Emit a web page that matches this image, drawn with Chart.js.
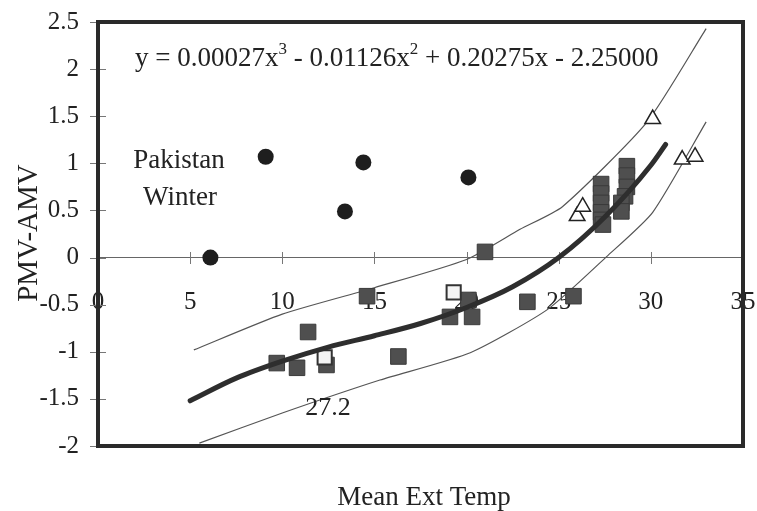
<!DOCTYPE html>
<html>
<head>
<meta charset="utf-8">
<script src="https://cdn.jsdelivr.net/npm/chart.js@4.4.1/dist/chart.umd.min.js"></script>
<style>
  html, body { margin: 0; padding: 0; background: #fff; }
  #wrap { width: 757px; height: 511px; position: relative; }
  canvas { display: block; }
</style>
</head>
<body>
<div id="wrap"><canvas id="c" width="757" height="511"></canvas></div>
<script>
// ---- Data ----
const xTicks = [0, 5, 10, 15, 20, 25, 30, 35];
const yTicks = [2.5, 2, 1.5, 1, 0.5, 0, -0.5, -1, -1.5, -2];

// Pakistan winter (filled circles)
const pakX = [6.1, 9.1, 13.4, 14.4, 20.1];
const pakY = [0.0, 1.07, 0.49, 1.01, 0.85];

// filled grey squares
const sqX = [9.7, 10.8, 11.4, 12.4, 14.6, 16.3, 19.1, 20.3, 20.1, 21.0, 23.3, 25.8,
             27.3, 27.3, 27.3, 27.3, 27.3, 27.4,
             28.7, 28.7, 28.7, 28.6, 28.4, 28.4];
const sqY = [-1.12, -1.17, -0.79, -1.14, -0.41, -1.05, -0.63, -0.63, -0.45, 0.06, -0.47, -0.41,
             0.78, 0.68, 0.58, 0.48, 0.40, 0.35,
             0.97, 0.87, 0.75, 0.65, 0.58, 0.49];

// open squares
const osqX = [19.3, 12.3];
const osqY = [-0.37, -1.06];

// open triangles
const triX = [26.0, 26.3, 30.1, 31.7, 32.4];
const triY = [0.44, 0.54, 1.47, 1.04, 1.07];

// fitted cubic trend
const fitX = [5, 7.5, 10, 12.5, 15, 17.5, 20, 22.5, 25, 27.5, 30, 30.8];
const fitY = [-1.52, -1.28, -1.10, -0.95, -0.83, -0.70, -0.53, -0.31, 0.0, 0.43, 0.98, 1.20];

// upper and lower thin band lines
const upX = [5.2, 10, 15, 20, 22.9, 25.2, 29.8, 33];
const upY = [-0.98, -0.60, -0.32, -0.02, 0.30, 0.54, 1.44, 2.43];
const loX = [5.5, 10, 15.3, 20.2, 24.4, 27.6, 30.1, 33];
const loY = [-1.97, -1.65, -1.30, -1.01, -0.55, 0.01, 0.48, 1.44];

const equationParts = [["y = 0.00027x", false], ["3", true], [" - 0.01126x", false], ["2", true], [" + 0.20275x - 2.25000", false]];
const labelPakistan = ["Pakistan", "Winter"];
const label272 = "27.2";
const xTitle = "Mean Ext Temp";
const yTitle = "PMV-AMV";

const pts = (xs, ys) => xs.map((x, i) => ({ x: x, y: ys[i] }));
const SERIF = "'Liberation Serif', 'Times New Roman', serif";
const INK = '#222';

const decor = {
  id: 'decor',
  beforeDraw(chart) {
    const ctx = chart.ctx;
    ctx.save();
    ctx.fillStyle = '#fff';
    ctx.fillRect(0, 0, chart.width, chart.height);
    ctx.restore();
  },
  beforeDatasetsDraw(chart) {
    const { ctx, chartArea: a, scales } = chart;
    const xs = scales.x, ys = scales.y;
    ctx.save();
    // y tick marks across the left border
    ctx.strokeStyle = '#777';
    ctx.lineWidth = 1;
    yTicks.forEach(v => {
      const py = Math.round(ys.getPixelForValue(v)) + 0.5;
      ctx.beginPath(); ctx.moveTo(a.left - 8, py); ctx.lineTo(a.left + 8, py); ctx.stroke();
    });
    // x tick marks across the zero line
    const y0 = Math.round(ys.getPixelForValue(0));
    xTicks.forEach(v => {
      const px = Math.round(xs.getPixelForValue(v)) + 0.5;
      ctx.beginPath(); ctx.moveTo(px, y0 - 6); ctx.lineTo(px, y0 + 6); ctx.stroke();
    });
    // thick plot frame
    ctx.strokeStyle = '#2a2a2a';
    ctx.lineWidth = 4;
    ctx.strokeRect(a.left, a.top, a.right - a.left, a.bottom - a.top);
    ctx.restore();
  },
  afterDraw(chart) {
    const { ctx } = chart;
    ctx.save();
    ctx.fillStyle = INK;
    ctx.textBaseline = 'alphabetic';
    // equation
    let ex = 135;
    const eb = 66;
    equationParts.forEach(([t, sup]) => {
      ctx.font = (sup ? '17px ' : '27px ') + SERIF;
      ctx.fillText(t, ex, sup ? eb - 12 : eb);
      ex += ctx.measureText(t).width;
    });
    // Pakistan Winter
    ctx.font = '27px ' + SERIF;
    ctx.textAlign = 'center';
    ctx.fillText(labelPakistan[0], 179, 168);
    ctx.fillText(labelPakistan[1], 180, 205);
    // 27.2 label
    ctx.font = '26px ' + SERIF;
    ctx.fillText(label272, 328, 415);
    // axis titles
    ctx.font = '27px ' + SERIF;
    ctx.fillText(xTitle, 424, 505);
    ctx.font = '29px ' + SERIF;
    ctx.translate(37, 233);
    ctx.rotate(-Math.PI / 2);
    ctx.fillText(yTitle, 0, 0);
    ctx.restore();
  }
};

new Chart(document.getElementById('c'), {
  type: 'scatter',
  data: {
    datasets: [
      { label: 'upper', type: 'line', data: pts(upX, upY), borderColor: '#555', borderWidth: 1.2,
        pointRadius: 0, tension: 0.2, fill: false, order: 5 },
      { label: 'lower', type: 'line', data: pts(loX, loY), borderColor: '#555', borderWidth: 1.2,
        pointRadius: 0, tension: 0.2, fill: false, order: 5 },
      { label: 'squares', data: pts(sqX, sqY), pointStyle: 'rect', pointRadius: 11,
        backgroundColor: '#4f4f4f', borderColor: '#3a3a3a', borderWidth: 1, order: 3 },
      { label: 'open squares', data: pts(osqX, osqY), pointStyle: 'rect', pointRadius: 10,
        backgroundColor: '#f4f4f4', borderColor: '#333', borderWidth: 2, order: 2 },
      { label: 'fit', type: 'line', data: pts(fitX, fitY), borderColor: '#2e2e2e', borderWidth: 5,
        pointRadius: 0, cubicInterpolationMode: 'monotone', fill: false, borderCapStyle: 'round', order: 1 },
      { label: 'triangles', data: pts(triX, triY), pointStyle: 'triangle', pointRadius: 9,
        backgroundColor: '#fff', borderColor: '#222', borderWidth: 1.5, order: 2 },
      { label: 'Pakistan Winter', data: pts(pakX, pakY), pointStyle: 'circle', pointRadius: 8,
        backgroundColor: '#1e1e1e', borderColor: '#1e1e1e', borderWidth: 0, order: 0 }
    ]
  },
  plugins: [decor],
  options: {
    responsive: false,
    devicePixelRatio: 1,
    animation: false,
    layout: { padding: { left: 0, right: 14, top: 22, bottom: 65 } },
    plugins: { legend: { display: false }, tooltip: { enabled: false } },
    scales: {
      x: {
        type: 'linear', min: 0, max: 35,
        position: { y: 0 },
        afterBuildTicks: s => { s.ticks = xTicks.map(v => ({ value: v })); },
        afterFit: s => { s.paddingLeft = 0; s.paddingRight = 0; s.paddingTop = 0; s.paddingBottom = 0; },
        ticks: { color: INK, font: { family: SERIF, size: 25 }, padding: 30, maxRotation: 0,
                 callback: v => String(v) },
        grid: { display: false, drawTicks: false },
        border: { display: true, color: '#666', width: 1 }
      },
      y: {
        type: 'linear', min: -2, max: 2.5,
        afterBuildTicks: s => { s.ticks = yTicks.map(v => ({ value: v })); },
        afterFit: s => { s.width = 98; s.paddingTop = 0; s.paddingBottom = 0; s.paddingLeft = 0; s.paddingRight = 0; },
        ticks: { color: INK, font: { family: SERIF, size: 25 }, padding: 19,
                 callback: v => String(v) },
        grid: { display: false, drawTicks: false },
        border: { display: false }
      }
    }
  }
});
</script>
</body>
</html>
